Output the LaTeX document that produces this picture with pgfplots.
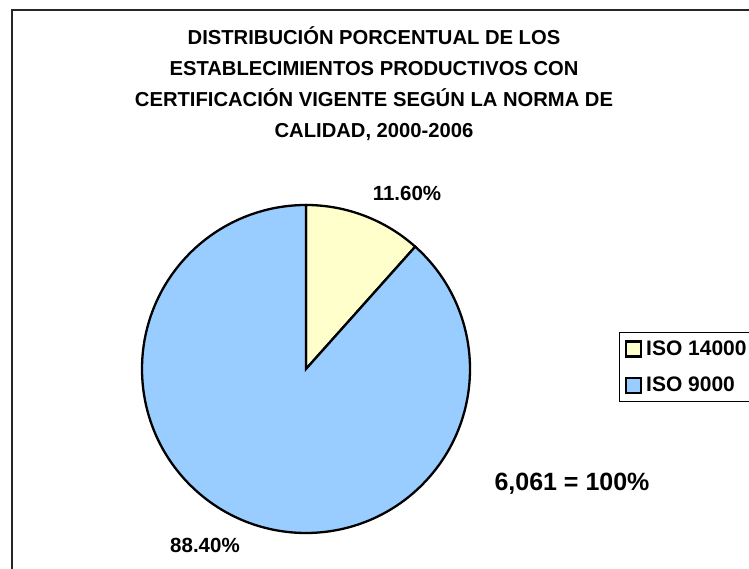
\documentclass[border=0pt]{standalone}
\usepackage{pgfplots}
\usepackage{pgfplotstable}
\usepackage{fontspec}
\setmainfont{Liberation Sans}
\pgfplotsset{compat=1.18}
\definecolor{isoyellow}{HTML}{FFFFCC}
\definecolor{isoblue}{HTML}{99CCFF}

% percentage share of each quality standard
\pgfplotstableread{
norma pct
{ISO 14000} 11.60
{ISO 9000} 88.40
}\piedata

\begin{document}
\begin{tikzpicture}
\pgfplotstablegetelem{0}{pct}\of\piedata
\edef\pctA{\pgfplotsretval}
\pgfplotstablegetelem{1}{pct}\of\piedata
\edef\pctB{\pgfplotsretval}
\pgfmathsetmacro{\angA}{90-3.6*\pctA}
\begin{axis}[
    scale only axis,
    width=749pt, height=569pt,
    xmin=0, xmax=749, ymin=0, ymax=569,
    hide axis, clip=false,
    legend style={at={(axis cs:619,237)}, anchor=north west, draw=black,
        line width=1pt, font=\bfseries\fontsize{21}{23}\selectfont,
        inner xsep=5.5pt, inner ysep=6.5pt, row sep=16pt,
        legend cell align=left},
    legend image code/.code={\draw[#1] (0pt,-7.5pt) rectangle (15pt,7.5pt); \path (17pt,0pt);},
]
\addlegendimage{fill=isoyellow, draw=black, line width=2.2pt}
\addlegendentry{ISO 14000}
\addlegendimage{fill=isoblue, draw=black, line width=2.2pt}
\addlegendentry{ISO 9000}

% chart frame
\draw[line width=2pt, black!85] (axis cs:11.5,-10) rectangle (axis cs:780,558.5);

% slices
\draw[fill=isoyellow, line width=2.3pt] (axis cs:306,200) -- ++(90:164pt)
    arc[start angle=90, end angle=\angA, radius=164pt] -- cycle;
\draw[fill=isoblue, line width=2.3pt] (axis cs:306,200) -- ++(\angA:164pt)
    arc[start angle=\angA, end angle=-270, radius=164pt] -- cycle;

% labels
\node[font=\bfseries\fontsize{20.5}{22}\selectfont] at (axis cs:407,376) {\pctA\%};
\node[font=\bfseries\fontsize{20.5}{22}\selectfont] at (axis cs:205,24) {\pctB\%};
\node[font=\bfseries\fontsize{25}{28}\selectfont] at (axis cs:572,85) {6,061 = 100\%};

% title
\node[font=\bfseries\fontsize{20.2}{31}\selectfont, align=center] at (axis cs:374,485)
    {DISTRIBUCIÓN PORCENTUAL DE LOS\\ESTABLECIMIENTOS PRODUCTIVOS CON\\CERTIFICACIÓN VIGENTE SEGÚN LA NORMA DE\\CALIDAD, 2000-2006};
\end{axis}
\pgfresetboundingbox
\path[use as bounding box] (0,0) rectangle (749pt,569pt);
\end{tikzpicture}
\end{document}
